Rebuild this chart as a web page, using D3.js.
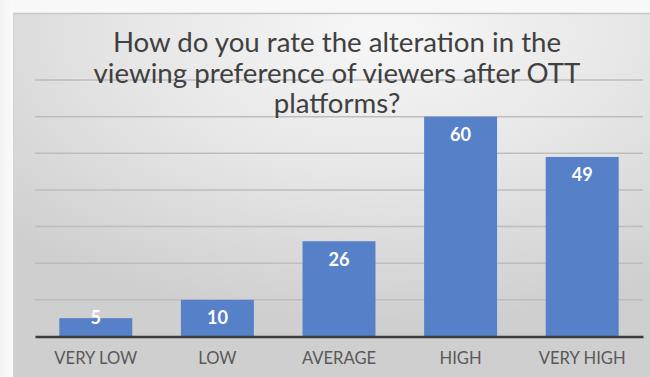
<!DOCTYPE html>
<html>
<head>
<meta charset="utf-8">
<script src="https://cdn.jsdelivr.net/npm/d3@7"></script>
<style>
  html, body { margin: 0; padding: 0; background: #f8f8f8; }
  svg { display: block; }
</style>
</head>
<body>
<svg id="chart" width="650" height="377"></svg>
<script>
// Survey responses: rating of change in viewing preference after OTT platforms
const categories = ["VERY LOW", "LOW", "AVERAGE", "HIGH", "VERY HIGH"];
const values = [5, 10, 26, 60, 49];
const yTicks = [0, 10, 20, 30, 40, 50, 60, 70];
const titleLines = [
  "How do you rate the alteration in the",
  "viewing preference of viewers after OTT",
  "platforms?"
];

const W = 650, H = 377;
const svg = d3.select("#chart");
const FONT = "Lato, 'Open Sans', sans-serif";

// Panel background with soft radial shading
const defs = svg.append("defs");
const grad = defs.append("radialGradient")
  .attr("id", "panelGrad")
  .attr("cx", 0.58).attr("cy", 0.05).attr("r", 0.8)
  .attr("fx", 0.58).attr("fy", 0.05);
grad.append("stop").attr("offset", "0%").attr("stop-color", "#f7f7f7");
grad.append("stop").attr("offset", "50%").attr("stop-color", "#e6e6e6");
grad.append("stop").attr("offset", "100%").attr("stop-color", "#cfcfcf");

const outer = defs.append("linearGradient").attr("id", "outerGrad")
  .attr("x1", 0).attr("x2", 1).attr("y1", 0).attr("y2", 0);
outer.append("stop").attr("offset", "0%").attr("stop-color", "#f3f3f3");
outer.append("stop").attr("offset", "100%").attr("stop-color", "#fafafa");

svg.append("rect").attr("x", 0).attr("y", 0).attr("width", W).attr("height", H)
  .attr("fill", "#f8f8f8");
svg.append("rect").attr("x", 0).attr("y", 0).attr("width", 13).attr("height", H)
  .attr("fill", "url(#outerGrad)");

const panel = { x: 13, y: 13, w: W - 13, h: H - 13 };
svg.append("rect")
  .attr("x", panel.x).attr("y", panel.y)
  .attr("width", panel.w).attr("height", panel.h)
  .attr("fill", "url(#panelGrad)");
// subtle edge shadow
svg.append("line")
  .attr("x1", panel.x).attr("x2", W)
  .attr("y1", panel.y + 0.5).attr("y2", panel.y + 0.5)
  .attr("stroke", "#c6c6c6").attr("stroke-width", 1.5);
svg.append("line")
  .attr("x1", panel.x + 0.5).attr("x2", panel.x + 0.5)
  .attr("y1", panel.y).attr("y2", H)
  .attr("stroke", "#d4d4d4").attr("stroke-width", 1);

// Plot scales
const plot = { left: 35, right: 643, top: 80, bottom: 336.5 };
const x = d3.scaleBand()
  .domain(categories)
  .range([plot.left, plot.right])
  .paddingInner(0.4)
  .paddingOuter(0.2);
const y = d3.scaleLinear()
  .domain([0, 70])
  .range([plot.bottom, plot.top]);

// Horizontal gridlines
svg.append("g")
  .selectAll("line")
  .data(yTicks.filter(d => d > 0))
  .join("line")
  .attr("x1", plot.left).attr("x2", plot.right)
  .attr("y1", d => y(d)).attr("y2", d => y(d))
  .attr("stroke", "#bdbdbd").attr("stroke-width", 1.5);

// Bars
svg.append("g")
  .selectAll("rect")
  .data(values)
  .join("rect")
  .attr("x", (d, i) => x(categories[i]))
  .attr("y", d => y(d))
  .attr("width", x.bandwidth())
  .attr("height", d => y(0) - y(d))
  .attr("fill", "#5680c8");

// Category axis (baseline + labels)
const xAxis = d3.axisBottom(x).tickSize(0).tickPadding(0);
const gx = svg.append("g")
  .attr("transform", `translate(0,${y(0)})`)
  .call(xAxis);
gx.select(".domain")
  .attr("stroke", "#3c3c3c").attr("stroke-width", 2.5);
gx.selectAll(".tick text")
  .attr("y", 27)
  .attr("dy", 0)
  .attr("fill", "#595959")
  .style("font-family", FONT)
  .style("font-size", "15px");

// Fit a font size so a reference string matches a target width
function fitSize(sel, targetWidth) {
  const node = sel.node();
  const fs = parseFloat(sel.style("font-size"));
  const w = node.getComputedTextLength();
  const nfs = fs * targetWidth / w;
  sel.style("font-size", nfs.toFixed(2) + "px");
  return nfs;
}
const firstLabel = gx.selectAll(".tick text").filter(d => d === "VERY LOW");
const labelSize = fitSize(firstLabel, 83);
gx.selectAll(".tick text").style("font-size", labelSize.toFixed(2) + "px");

// Value labels inside the bar tops
const vl = svg.append("g")
  .selectAll("text")
  .data(values)
  .join("text")
  .attr("x", (d, i) => x(categories[i]) + x.bandwidth() / 2)
  .attr("y", d => Math.min(y(d) + 24.5, y(0) - 12.5))
  .attr("text-anchor", "middle")
  .attr("fill", "#ffffff")
  .style("font-family", FONT)
  .style("font-weight", "700")
  .style("font-size", "16px")
  .text(d => d);
const numSize = fitSize(vl.filter(d => d === 60), 21);
vl.style("font-size", numSize.toFixed(2) + "px");

// Title
const title = svg.append("g")
  .selectAll("text")
  .data(titleLines)
  .join("text")
  .attr("x", 337)
  .attr("y", (d, i) => 52 + i * 30.5)
  .attr("text-anchor", "middle")
  .attr("fill", "#404040")
  .style("font-family", FONT)
  .style("font-size", "24px")
  .text(d => d);
const titleSize = fitSize(title.filter((d, i) => i === 1), 487);
title.style("font-size", titleSize.toFixed(2) + "px");
</script>
</body>
</html>
